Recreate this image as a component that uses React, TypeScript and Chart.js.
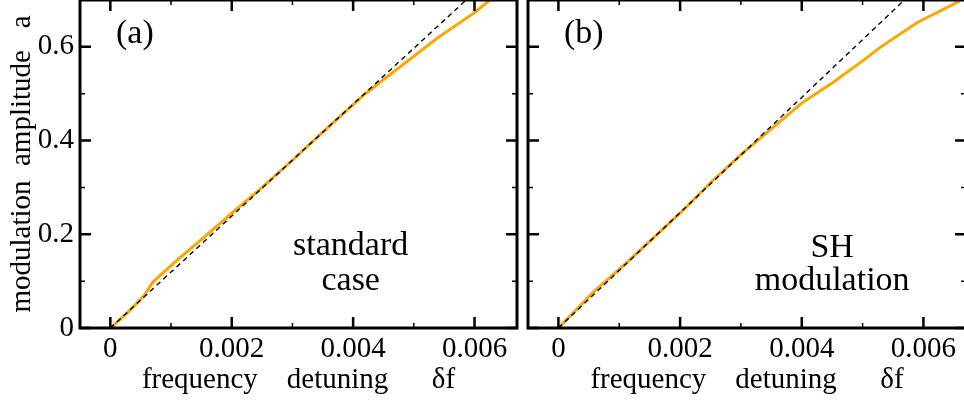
import React, { useEffect, useRef } from "react";
import { Chart, registerables } from "chart.js";

Chart.register(...registerables);

// ---- axis ranges and ticks ----
const xMin = -0.0005;
const xMax = 0.0067;
const yMin = 0;
const yMax = 0.7;
const xTickValues = [0, 0.002, 0.004, 0.006];
const xTickLabels = ["0", "0.002", "0.004", "0.006"];
const xMinorTicks = [0.001, 0.003, 0.005];
const yTickValues = [0, 0.2, 0.4, 0.6];
const yTickLabels = ["0", "0.2", "0.4", "0.6"];
const yMinorTicks = [0.1, 0.3, 0.5];

// ---- panel (a): standard case ----
const standardX = [0, 0.0003, 0.00055, 0.0007, 0.0011, 0.0016, 0.002, 0.0025, 0.003, 0.0035, 0.0042, 0.0048, 0.0054, 0.006, 0.0063];
const standardY = [0, 0.035, 0.068, 0.098, 0.145, 0.2, 0.245, 0.3, 0.358, 0.418, 0.5, 0.56, 0.62, 0.673, 0.705];
const linearAX = [0, 0.0067];
const linearAY = [0, 0.8];

// ---- panel (b): SH modulation ----
const shX = [0, 0.0006, 0.001, 0.0015, 0.002, 0.0025, 0.003, 0.0035, 0.004, 0.0045, 0.005, 0.0053, 0.0059, 0.0066];
const shY = [0, 0.08, 0.125, 0.185, 0.245, 0.31, 0.37, 0.425, 0.48, 0.523, 0.57, 0.6, 0.652, 0.698];
const linearBX = [0, 0.0065];
const linearBY = [0, 0.8];

const xTitle = "frequency    detuning      δf";
const yTitle = "modulation  amplitude   a";

const FONT = "'Liberation Serif', 'Times New Roman', serif";
const ORANGE = "#FFA500";

const zip = (xs: number[], ys: number[]) => xs.map((x, i) => ({ x, y: ys[i] }));

type Note = { text: string; x: number; y: number };

function framePlugin(label: string, notes: Note[]) {
  return {
    id: "frame-" + label,
    afterDraw(chart: any) {
      const ctx = chart.ctx;
      const { left, right, top, bottom } = chart.chartArea;
      const xs = chart.scales.x;
      const ys = chart.scales.y;
      ctx.save();
      ctx.strokeStyle = "#000";
      const drawX = (vals: number[], len: number, w: number) => {
        ctx.lineWidth = w;
        vals.forEach((v) => {
          const px = xs.getPixelForValue(v);
          ctx.beginPath();
          ctx.moveTo(px, bottom);
          ctx.lineTo(px, bottom - len);
          ctx.moveTo(px, top);
          ctx.lineTo(px, top + len);
          ctx.stroke();
        });
      };
      const drawY = (vals: number[], len: number, w: number) => {
        ctx.lineWidth = w;
        vals.forEach((v) => {
          const py = ys.getPixelForValue(v);
          ctx.beginPath();
          ctx.moveTo(left, py);
          ctx.lineTo(left + len, py);
          ctx.moveTo(right, py);
          ctx.lineTo(right - len, py);
          ctx.stroke();
        });
      };
      drawX(xTickValues, 11, 2.5);
      drawX(xMinorTicks, 5, 1.5);
      drawY(yTickValues, 11, 2.5);
      drawY(yMinorTicks, 5, 1.5);
      ctx.lineWidth = 3;
      ctx.strokeRect(left, top, right - left, bottom - top);
      ctx.fillStyle = "#000";
      ctx.font = `34px ${FONT}`;
      ctx.textAlign = "left";
      ctx.textBaseline = "alphabetic";
      ctx.fillText(label, left + 36, top + 43);
      ctx.textAlign = "center";
      notes.forEach((n) => {
        ctx.fillText(n.text, xs.getPixelForValue(n.x), ys.getPixelForValue(n.y));
      });
      ctx.restore();
    },
  };
}

function makeConfig(
  curveX: number[],
  curveY: number[],
  linX: number[],
  linY: number[],
  showY: boolean,
  padLeft: number,
  padRight: number,
  label: string,
  notes: Note[]
): any {
  const zeroPad = (s: any) => {
    s.paddingTop = 0;
    s.paddingBottom = 0;
    s.paddingLeft = 0;
    s.paddingRight = 0;
  };
  return {
    type: "line",
    data: {
      datasets: [
        {
          data: zip(linX, linY),
          borderColor: "#000",
          borderWidth: 1.4,
          borderDash: [5, 4],
          pointRadius: 0,
          fill: false,
          tension: 0,
        },
        {
          data: zip(curveX, curveY),
          borderColor: ORANGE,
          borderWidth: 3,
          pointRadius: 0,
          fill: false,
          tension: 0,
        },
      ],
    },
    options: {
      responsive: false,
      animation: false,
      devicePixelRatio: 1,
      layout: { padding: { left: padLeft, right: padRight, top: 0, bottom: 0 } },
      plugins: { legend: { display: false }, tooltip: { enabled: false } },
      scales: {
        x: {
          type: "linear",
          min: xMin,
          max: xMax,
          grid: { display: false, drawTicks: false },
          border: { display: false },
          afterBuildTicks: (s: any) => {
            s.ticks = xTickValues.map((v) => ({ value: v }));
          },
          afterFit: (s: any) => {
            s.height = 78;
            zeroPad(s);
          },
          ticks: {
            padding: 4,
            color: "#000",
            font: { family: FONT, size: 29 },
            maxRotation: 0,
            autoSkip: false,
            callback: (_v: any, i: number) => xTickLabels[i],
          },
          title: {
            display: true,
            text: xTitle,
            color: "#000",
            font: { family: FONT, size: 29 },
            padding: { top: 0, bottom: 8 },
          },
        },
        y: {
          type: "linear",
          display: showY,
          min: yMin,
          max: yMax,
          grid: { display: false, drawTicks: false },
          border: { display: false },
          afterBuildTicks: (s: any) => {
            s.ticks = yTickValues.map((v) => ({ value: v }));
          },
          afterFit: (s: any) => {
            s.width = showY ? 80 : 0;
            zeroPad(s);
          },
          ticks: {
            padding: 6,
            color: "#000",
            font: { family: FONT, size: 29 },
            autoSkip: false,
            callback: (_v: any, i: number) => yTickLabels[i],
          },
          title: {
            display: true,
            text: yTitle,
            color: "#000",
            font: { family: FONT, size: 29 },
            padding: { top: 5, bottom: 0 },
          },
        },
      },
    },
    plugins: [framePlugin(label, notes)],
  };
}

export default function App() {
  const leftRef = useRef<HTMLCanvasElement>(null);
  const rightRef = useRef<HTMLCanvasElement>(null);

  useEffect(() => {
    const left = new Chart(
      leftRef.current as HTMLCanvasElement,
      makeConfig(standardX, standardY, linearAX, linearAY, true, 0, 3, "(a)", [
        { text: "standard", x: 0.00396, y: 0.155 },
        { text: "case", x: 0.00396, y: 0.081 },
      ])
    );
    const right = new Chart(
      rightRef.current as HTMLCanvasElement,
      makeConfig(shX, shY, linearBX, linearBY, false, 8, 0, "(b)", [
        { text: "SH", x: 0.0045, y: 0.151 },
        { text: "modulation", x: 0.0045, y: 0.081 },
      ])
    );
    return () => {
      left.destroy();
      right.destroy();
    };
  }, []);

  return (
    <div
      style={{
        position: "fixed",
        left: 0,
        top: 0,
        width: 964,
        height: 406,
        overflow: "hidden",
        background: "#fff",
      }}
    >
      <canvas
        ref={leftRef}
        width={520}
        height={406}
        style={{ position: "absolute", left: 0, top: 0, width: 520, height: 406 }}
      />
      <canvas
        ref={rightRef}
        width={446}
        height={406}
        style={{ position: "absolute", left: 520, top: 0, width: 446, height: 406 }}
      />
    </div>
  );
}
